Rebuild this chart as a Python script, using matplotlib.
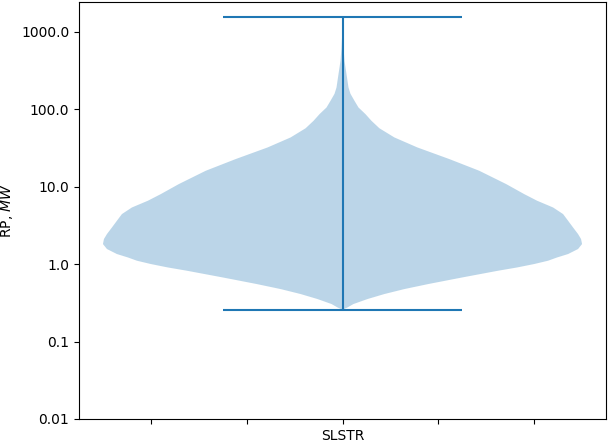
import numpy as np
import matplotlib
matplotlib.use("Agg")
import matplotlib.pyplot as plt

# Violin density profile (log10 of RP in MW -> relative density)
log_rp = [-0.590, -0.560, -0.516, -0.452, -0.387, -0.323, -0.258, -0.173, -0.086,
          -0.044, 0.0, 0.043, 0.085, 0.129, 0.194, 0.258, 0.323, 0.387, 0.472,
          0.559, 0.645, 0.730, 0.817, 0.903, 1.032, 1.204, 1.355, 1.505, 1.634,
          1.752, 1.849, 1.935, 2.021, 2.107, 2.197, 2.279, 2.452, 2.623, 2.795,
          2.946, 3.193]
density = [0, 5, 11, 25, 42, 62, 86, 120, 156,
           175, 192, 206, 215, 226, 236, 240, 239, 236, 231,
           226, 221, 211, 195, 182, 164, 137, 107, 75, 52,
           37, 29, 23, 16, 12, 8, 6, 4, 2, 1,
           0.4, 0.0]
rp_min_log = -0.590
rp_max_log = 3.193
category = "SLSTR"
ytick_vals = [-2, -1, 0, 1, 2, 3]
ytick_labels = ["0.01", "0.1", "1.0", "10.0", "100.0", "1000.0"]

fig = plt.figure(figsize=(6.08, 4.45), dpi=100)
ax = fig.add_axes([79 / 608, 1 - 419 / 445, (606 - 79) / 608, (419 - 2) / 445])

stats = [{
    "coords": np.array(log_rp),
    "vals": np.array(density, dtype=float),
    "mean": float(np.mean(log_rp)),
    "median": 0.3,
    "min": rp_min_log,
    "max": rp_max_log,
    "quantiles": [],
}]
ax.violin(stats, positions=[1], widths=0.5, showextrema=True)

ax.set_ylim(bottom=-2)
ax.set_yticks(ytick_vals)
ax.set_yticklabels(ytick_labels)
ax.set_xticks([0.8, 0.9, 1.0, 1.1, 1.2])
ax.set_xticklabels(["", "", category, "", ""])
ax.set_ylabel("RP, $MW$")

fig.savefig("out.png", dpi=100)
